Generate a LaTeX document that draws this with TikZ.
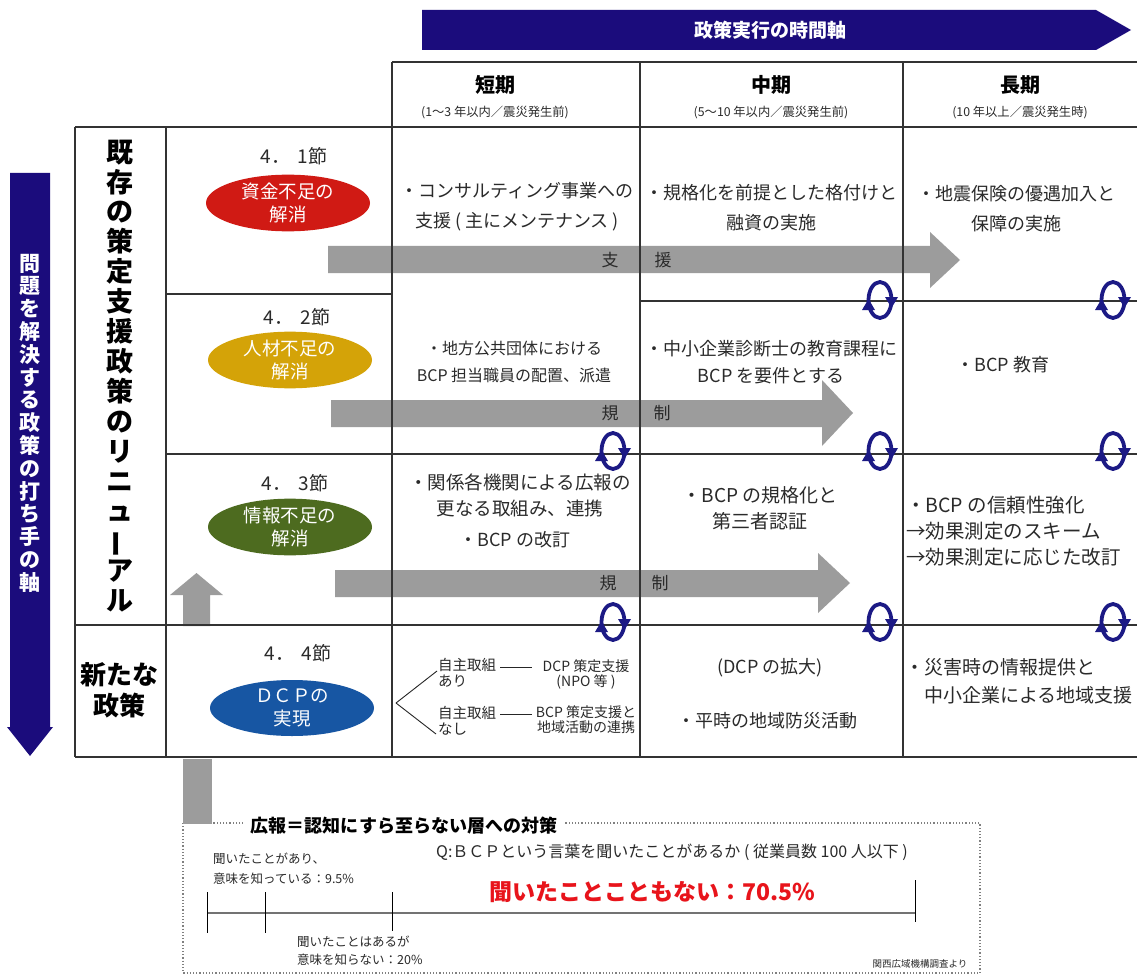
\documentclass[tikz,border=0pt]{standalone}
\usepackage{fontspec}
\setmainfont{Noto Sans CJK JP}
\usetikzlibrary{shapes.geometric}
\definecolor{navy}{HTML}{1B0C7C}
\definecolor{loopblue}{HTML}{1C1A85}
\definecolor{agray}{HTML}{9C9C9C}
\definecolor{ered}{HTML}{D01A14}
\definecolor{egold}{HTML}{D4A308}
\definecolor{egreen}{HTML}{4D6B1F}
\definecolor{eblue}{HTML}{1756A3}
\definecolor{txt}{HTML}{2A2A2A}
\definecolor{redtxt}{HTML}{E8141B}
\tikzset{
  gridline/.style={draw=black!80, line width=1.2pt},
  hdr/.style={font=\fontsize{20}{24}\selectfont\bfseries, text=black, inner sep=0},
  subhdr/.style={font=\fontsize{12.3}{14}\selectfont, text=txt, inner sep=0},
  cell/.style={font=\fontsize{18}{30}\selectfont, text=txt, align=center, inner sep=0},
  cellsmall/.style={font=\fontsize{16}{27}\selectfont, text=txt, align=center, inner sep=0},
  tiny/.style={font=\fontsize{14.5}{16}\selectfont, text=txt, align=left, inner sep=0},
  sect/.style={font=\fontsize{19}{22}\selectfont, text=txt, inner sep=0},
  issue/.style={ellipse, minimum width=164, minimum height=56, inner sep=0, text=white,
                align=center, font=\fontsize{18.5}{23}\selectfont},
  arrowgray/.style={fill=agray, draw=none},
  arrowlbl/.style={font=\fontsize{17}{20}\selectfont, text=txt, inner sep=0},
  cyc/.pic={
    \draw[loopblue, line width=3.8pt] (0,0) ellipse [x radius=11.5, y radius=18];
    \fill[loopblue] (5,-3) -- (18,-3) -- (11.5,8) -- cycle;
    \fill[loopblue] (-18,10) -- (-5,10) -- (-11.5,-1) -- cycle;
  },
}
\begin{document}
\begin{tikzpicture}[x=1pt,y=-1pt]
\useasboundingbox (0,0) rectangle (1137,976);
\fill[white] (0,0) rectangle (1137,976);

% ---- top time axis banner
\fill[navy] (422,10) -- (1096,10) -- (1131,30) -- (1096,50) -- (422,50) -- cycle;
\node[font=\fontsize{19}{22}\selectfont\bfseries, text=white, inner sep=0] (tlabel) at (770,30) {政策実行の時間軸};

% ---- left policy axis arrow
\fill[navy] (10,173) -- (50,173) -- (50,727) -- (53,727) -- (30,756) -- (7,727) -- (10,727) -- cycle;
\node[font=\fontsize{21}{22.8}\selectfont\bfseries, text=white, align=center, inner sep=0] (vlabel) at (30,423)
  {問\\題\\を\\解\\決\\す\\る\\政\\策\\の\\打\\ち\\手\\の\\軸};

% ---- gray arrows
\fill[arrowgray] (328,246) -- (930,246) -- (930,232) -- (960,260) -- (930,288) -- (930,273) -- (328,273) -- cycle;
\fill[arrowgray] (331,400) -- (822,400) -- (822,380) -- (853,413) -- (822,446) -- (822,427) -- (331,427) -- cycle;
\fill[arrowgray] (335,570) -- (818,570) -- (818,553) -- (850,583) -- (818,613) -- (818,597) -- (335,597) -- cycle;
% up arrow in 4.3 cell
\fill[arrowgray] (183,626) -- (183,595) -- (170,595) -- (196.5,573) -- (223,595) -- (210,595) -- (210,626) -- cycle;

\node[arrowlbl] (a1l) at (610,260) {支};
\node[arrowlbl] (a1r) at (663,260) {援};
\node[arrowlbl] (a2l) at (610,413) {規};
\node[arrowlbl] (a2r) at (662,413) {制};
\node[arrowlbl] (a3l) at (608,583) {規};
\node[arrowlbl] (a3r) at (660,583) {制};

% ---- grid
\draw[gridline] (392,62) -- (1137,62);
\draw[gridline] (75,127) -- (1137,127);
\draw[gridline] (166,294) -- (392,294);
\draw[gridline] (640,301) -- (1137,301);
\draw[gridline] (166,454) -- (1137,454);
\draw[gridline] (75,625) -- (1137,625);
\draw[gridline] (75,757) -- (1137,757);
\draw[gridline] (75,127) -- (75,757);
\draw[gridline] (166,127) -- (166,757);
\draw[gridline] (392,62) -- (392,757);
\draw[gridline] (640,62) -- (640,757);
\draw[gridline] (903,62) -- (903,757);

% ---- header
\node[hdr] (h1) at (495,85) {短期};
\node[subhdr] (s1) at (495,113) {(1～3 年以内／震災発生前)};
\node[hdr] (h2) at (771,85) {中期};
\node[subhdr] (s2) at (771,113) {(5～10 年以内／震災発生前)};
\node[hdr] (h3) at (1020,85) {長期};
\node[subhdr] (s3) at (1020,113) {(10 年以上／震災発生時)};

% ---- left column labels
\node[font=\fontsize{27}{29.9}\selectfont\bfseries, align=center, inner sep=0] (renew) at (120,376)
  {既\\存\\の\\策\\定\\支\\援\\政\\策\\の\\リ\\ニ\\ュ\\\rotatebox[origin=c]{90}{ー}\\ア\\ル};
\node[font=\fontsize{26}{31}\selectfont\bfseries, align=center, inner sep=0] (newpol) at (119,690) {新たな\\政策};

% ---- sections and issues
\node[sect] (sec1) at (294,156) {4．\hspace{0.4em}1節};
\node[issue, fill=ered] (e1) at (288,203) {資金不足の\\解消};
\node[sect] (sec2) at (297,317) {4．\hspace{0.4em}2節};
\node[issue, fill=egold] (e2) at (290,360) {人材不足の\\解消};
\node[sect] (sec3) at (295,483) {4．\hspace{0.4em}3節};
\node[issue, fill=egreen] (e3) at (290,527) {情報不足の\\解消};
\node[sect] (sec4) at (298,653) {4．\hspace{0.4em}4節};
\node[issue, fill=eblue] (e4) at (292,708) {ＤＣＰの\\実現};

% ---- row 1
\node[cell] (c11) at (517,207) {・コンサルティング事業への\\支援 ( 主にメンテナンス )};
\node[cell] (c12) at (771,208) {・規格化を前提とした格付けと\\融資の実施};
\node[cell] (c13) at (1016,209) {・地震保険の優遇加入と\\保障の実施};

% ---- row 2
\node[cellsmall] (c21) at (514,362) {・地方公共団体における\\BCP 担当職員の配置、派遣};
\node[cell, font=\fontsize{18}{27}\selectfont] (c22) at (771,362) {・中小企業診断士の教育課程に\\BCP を要件とする};
\node[cell] (c23) at (1003,365) {・BCP 教育};

% ---- row 3
\node[cell, font=\fontsize{18.5}{26}\selectfont] (c31) at (520,495) {・関係各機関による広報の\\更なる取組み、連携};
\node[cell] (c31b) at (515,540) {・BCP の改訂};
\node[cell, font=\fontsize{19}{26}\selectfont] (c32) at (760,508) {・BCP の規格化と\\第三者認証};
\node[cell, font=\fontsize{19.5}{26}\selectfont, align=left, anchor=west] (c33) at (906,531)
  {・BCP の信頼性強化\\→効果測定のスキーム\\→効果測定に応じた改訂};

% ---- row 4
\coordinate (apex) at (396,703);
\node[tiny, anchor=north west] (yes) at (438,658) {自主取組\\あり};
\node[tiny, anchor=north west] (no) at (438,706) {自主取組\\なし};
\node[tiny, align=center, font=\fontsize{14}{15}\selectfont] (yesact) at (586,674) {DCP 策定支援\\(NPO 等 )};
\node[tiny, align=center, font=\fontsize{14}{15}\selectfont] (noact) at (586,720) {BCP 策定支援と\\地域活動の連携};
\draw[black!85, line width=0.9pt] (apex) -- (437,671);
\draw[black!85, line width=0.9pt] (apex) -- (436,734);
\draw[black!85, line width=0.9pt] (500,667) -- (532,667);
\draw[black!85, line width=0.9pt] (500,714) -- (532,714);
\node[cell] (c42a) at (770,668) {(DCP の拡大)};
\node[cell] (c42b) at (767,721) {・平時の地域防災活動};
\node[cell, font=\fontsize{19}{28}\selectfont, align=left, anchor=west] (c43) at (905,681)
  {・災害時の情報提供と\\\hspace*{1em}中小企業による地域支援};

% ---- cycle loops
\pic at (880,300) {cyc};
\pic at (1113,300) {cyc};
\pic at (613,451) {cyc};
\pic at (880,451) {cyc};
\pic at (1113,451) {cyc};
\pic at (613,622) {cyc};
\pic at (880,622) {cyc};
\pic at (1113,622) {cyc};

% ---- survey box
\draw[black!50, dotted, line width=1.2pt] (183,823) rectangle (980,973);
\fill[arrowgray] (183,759) rectangle (212,824);
\node[font=\fontsize{18}{22}\selectfont\bfseries, fill=white, inner xsep=8pt, inner ysep=2pt] (boxtitle) at (404,826)
  {広報＝認知にすら至らない層への対策};
\node[font=\fontsize{16}{20}\selectfont, text=txt, inner sep=0] (q) at (672,852)
  {Q:ＢＣＰという言葉を聞いたことがあるか ( 従業員数 100 人以下 )};
\node[font=\fontsize{12.5}{20}\selectfont, text=txt, align=left, anchor=west, inner sep=0] (k1) at (213,869)
  {聞いたことがあり、\\意味を知っている：9.5\%};
\node[font=\fontsize{12.5}{18}\selectfont, text=txt, align=left, anchor=west, inner sep=0] (k2) at (297,951)
  {聞いたことはあるが\\意味を知らない：20\%};
\node[font=\fontsize{23}{26}\selectfont\bfseries, text=redtxt, inner sep=0] (k3) at (652,892)
  {聞いたことこともない：70.5\%};
\coordinate (s0) at (207,913);
\coordinate (s1) at (265,913);
\coordinate (s2) at (392,913);
\coordinate (s3) at (915,913);
\draw[black!55, line width=2pt] (s0) -- (s3);
\draw[black, line width=1pt] (207,892) -- (207,933);
\draw[black, line width=1pt] (265,892) -- (265,933);
\draw[black, line width=1pt] (392,892) -- (392,931);
\draw[black, line width=1pt] (915,880) -- (915,922);
\node[font=\fontsize{9.5}{11}\selectfont, text=txt, inner sep=0] (src) at (920,964) {関西広域機構調査より};
\end{tikzpicture}
\end{document}
